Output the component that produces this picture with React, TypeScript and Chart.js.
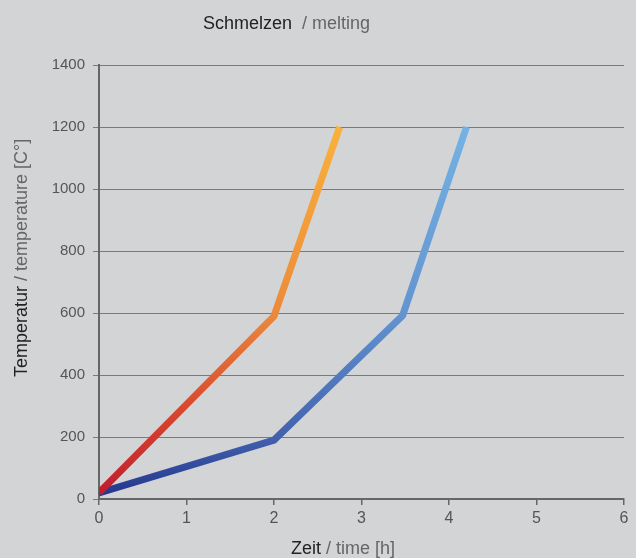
import React, { useEffect, useRef } from "react";
import { Chart, registerables } from "chart.js";

Chart.register(...registerables);

const meltTimeA = [0, 2, 2.75];
const meltTempA = [20, 590, 1200];
const meltTimeB = [0, 2, 3.47, 4.2];
const meltTempB = [20, 190, 592, 1200];
const xTicks = [0, 1, 2, 3, 4, 5, 6];
const yTicks = [0, 200, 400, 600, 800, 1000, 1200, 1400];

const BG = "#d3d4d6";
const FONT = "'Liberation Sans', Arial, sans-serif";

function makeGradient(chart: any, stops: [number, string][]) {
  const { ctx, chartArea, scales } = chart;
  if (!chartArea) return stops[0][1];
  const y = scales.y;
  const g = ctx.createLinearGradient(0, y.getPixelForValue(0), 0, y.getPixelForValue(1200));
  stops.forEach(([v, c]) => g.addColorStop(v / 1200, c));
  return g;
}

const textPlugin = {
  id: "textPlugin",
  afterDraw(chart: any) {
    const ctx = chart.ctx;
    ctx.save();
    ctx.font = `18px ${FONT}`;
    ctx.textBaseline = "alphabetic";
    ctx.textAlign = "left";
    // title
    let x = 203;
    ctx.fillStyle = "#222222";
    ctx.fillText("Schmelzen", x, 29);
    x += ctx.measureText("Schmelzen  ").width;
    ctx.fillStyle = "#666666";
    ctx.fillText("/ melting", x, 29);
    // x title
    x = 291;
    ctx.fillStyle = "#222222";
    ctx.fillText("Zeit", x, 554);
    x += ctx.measureText("Zeit ").width;
    ctx.fillStyle = "#666666";
    ctx.fillText("/ time [h]", x, 554);
    // y title
    ctx.translate(27, 377);
    ctx.rotate(-Math.PI / 2);
    ctx.fillStyle = "#222222";
    ctx.fillText("Temperatur", 0, 0);
    const w = ctx.measureText("Temperatur ").width;
    ctx.fillStyle = "#666666";
    ctx.fillText("/ temperature [C°]", w, 0);
    ctx.restore();
  },
};

export default function App() {
  const ref = useRef<HTMLCanvasElement>(null);
  useEffect(() => {
    document.body.style.margin = "0";
    document.body.style.background = BG;
    const chart = new Chart(ref.current!, {
      type: "line",
      data: {
        datasets: [
          {
            data: meltTimeA.map((t, i) => ({ x: t, y: meltTempA[i] })),
            borderWidth: 7,
            pointRadius: 0,
            borderCapStyle: "butt",
            borderJoinStyle: "miter",
            borderColor: (c: any) =>
              makeGradient(c.chart, [
                [0, "#c01a2e"],
                [300, "#d8492f"],
                [600, "#ec8a3a"],
                [1200, "#f9b13c"],
              ]),
          },
          {
            data: meltTimeB.map((t, i) => ({ x: t, y: meltTempB[i] })),
            borderWidth: 7,
            pointRadius: 0,
            borderCapStyle: "butt",
            borderJoinStyle: "miter",
            borderColor: (c: any) =>
              makeGradient(c.chart, [
                [0, "#22348a"],
                [200, "#4261ae"],
                [600, "#6394d0"],
                [1200, "#74b2e4"],
              ]),
          },
        ],
      },
      options: {
        animation: false,
        responsive: false,
        maintainAspectRatio: false,
        layout: { padding: { top: 65, right: 12, left: 0, bottom: 0 } },
        plugins: { legend: { display: false }, tooltip: { enabled: false }, title: { display: false } },
        scales: {
          x: {
            type: "linear",
            min: 0,
            max: 6,
            afterFit: (s: any) => {
              s.height = 59;
            },
            afterBuildTicks: (s: any) => {
              s.ticks = xTicks.map((v) => ({ value: v }));
            },
            border: { display: true, color: "#666666", width: 2 },
            grid: { drawOnChartArea: false, drawTicks: true, tickLength: 6, color: "#666666", lineWidth: 1.5 },
            ticks: {
              color: "#555555",
              font: { family: FONT, size: 16 },
              padding: 4,
              callback: (v: any) => String(v),
            },
          },
          y: {
            type: "linear",
            min: 0,
            max: 1400,
            afterFit: (s: any) => {
              s.width = 99;
            },
            afterBuildTicks: (s: any) => {
              s.ticks = yTicks.map((v) => ({ value: v }));
            },
            border: { display: true, color: "#666666", width: 2 },
            grid: { drawOnChartArea: true, drawTicks: true, tickLength: 6, color: "#7a7a7a", lineWidth: 1 },
            ticks: {
              color: "#555555",
              font: { family: FONT, size: 15 },
              padding: 8,
              callback: (v: any) => String(v),
            },
          },
        },
      },
      plugins: [textPlugin],
    } as any);
    return () => chart.destroy();
  }, []);
  return (
    <div style={{ width: 636, height: 558, background: BG }}>
      <canvas ref={ref} width={636} height={558} style={{ display: "block" }} />
    </div>
  );
}
